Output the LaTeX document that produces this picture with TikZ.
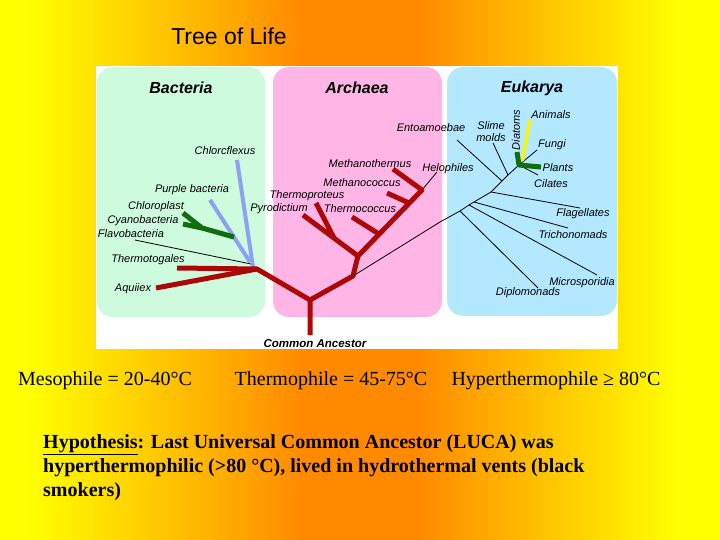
\documentclass[tikz,border=0pt]{standalone}
\usepackage{fontspec}
\setmainfont{Liberation Serif}
\setsansfont{Liberation Sans}
\usetikzlibrary{positioning}
\definecolor{bgYellow}{RGB}{255,255,0}
\definecolor{bgOrange}{RGB}{255,138,0}
\definecolor{panelGreen}{RGB}{206,250,222}
\definecolor{panelPink}{RGB}{255,182,230}
\definecolor{panelBlue}{RGB}{180,232,255}
\definecolor{treeRed}{RGB}{172,8,8}
\definecolor{treeBlue}{RGB}{140,162,240}
\definecolor{treeGreen}{RGB}{16,110,16}
\definecolor{treeYellow}{RGB}{240,245,40}
% the picture's box covers 25bp to 75bp of the shading
\pgfdeclarehorizontalshading{slideBg}{100bp}{color(0bp)=(bgYellow); color(27bp)=(bgYellow); color(46bp)=(bgOrange); color(54bp)=(bgOrange); color(72bp)=(bgYellow); color(100bp)=(bgYellow)}
\tikzset{
myPanel/.style={rounded corners=16pt}
, myHeader/.style={
	font=\sffamily\bfseries\itshape\fontsize{16}{18}\selectfont,
	inner sep=0pt
}
, myLeaf/.style={
	font=\sffamily\itshape\fontsize{11}{12}\selectfont,
	inner sep=0pt, text=black
}
% branches
, myRed/.style={draw=treeRed,line width=5pt,line join=round}
, myBlue/.style={draw=treeBlue,line width=4pt}
, myGreen/.style={draw=treeGreen,line width=5pt,line join=round}
, myYellow/.style={draw=treeYellow,line width=4pt}
, myThin/.style={draw=black,line width=0.8pt}
% texts below
, myTemp/.style={font=\fontsize{20}{24}\selectfont,inner sep=0pt,anchor=base}
, myHyp/.style={font=\bfseries\fontsize{20}{24}\selectfont,inner sep=0pt,anchor=base west}
}
\begin{document}
\begin{tikzpicture}[x=1pt,y=-1pt]
	% background
	\shade[shading=slideBg] (0,0) rectangle (720,540);
	\useasboundingbox (0,0) rectangle (720,540);
	\node[font=\sffamily\fontsize{23}{26}\selectfont,inner sep=0pt] (Title) at (229,36) {Tree of Life};
	% frame and panels
	\fill[white] (96,66) rectangle (618,349);
	\fill[myPanel,fill=panelGreen] (97,67) rectangle (265,317);
	\fill[myPanel,fill=panelPink] (273,67) rectangle (442,317);
	\fill[myPanel,fill=panelBlue] (447,67) rectangle (617,316);
	\node[myHeader] (Bacteria) at (181,88) {Bacteria};
	\node[myHeader] (Archaea) at (357,88) {Archaea};
	\node[myHeader] (Eukarya) at (532,88) {Eukarya};

	% bacteria
	\coordinate (Root) at (310,335);
	\coordinate (RootJ) at (310,300);
	\coordinate (BactJ) at (257,269);
	\coordinate (ThermotogaEnd) at (177,268);
	\coordinate (AquifexEnd) at (156,288);
	\coordinate (FlavoJ) at (251,264);
	\coordinate (FlavoEnd) at (135,240);
	\coordinate (ChloroflexJ) at (253,267);
	\coordinate (ChloroflexEnd) at (237,160);
	\coordinate (PurpleJ) at (250,262);
	\coordinate (PurpleEnd) at (210,200);
	\coordinate (GreenStem) at (234,237);
	\coordinate (GreenJ) at (202,228);
	\coordinate (ChloroplastEnd) at (183,213);
	\coordinate (CyanoEnd) at (183,224);
	\draw[myThin] (FlavoJ) -- (FlavoEnd);
	\draw[myBlue] (ChloroflexJ) -- (ChloroflexEnd);
	\draw[myBlue] (PurpleJ) -- (PurpleEnd);
	\draw[myGreen] (GreenStem) -- (GreenJ) -- (ChloroplastEnd);
	\draw[myGreen] (GreenJ) -- (CyanoEnd);
	\draw[myRed] (Root) -- (RootJ) -- (BactJ) -- (ThermotogaEnd);
	\draw[myRed] (BactJ) -- (AquifexEnd);

	% archaea
	\coordinate (ArchJ) at (353,276);
	\coordinate (ArchJ2) at (358,256);
	\coordinate (PyroEnd) at (303,215);
	\coordinate (TprotJ) at (334,238);
	\coordinate (TprotEnd) at (316,203);
	\coordinate (ArchTop) at (422,190);
	\coordinate (TcoccJ) at (379,234);
	\coordinate (TcoccEnd) at (352,217);
	\coordinate (McoccJ) at (409,203);
	\coordinate (McoccEnd) at (387,193);
	\coordinate (MthermEnd) at (393,169);
	\coordinate (HaloEnd) at (437,172);
	\draw[myThin] (ArchTop) -- (HaloEnd);
	\draw[myRed] (RootJ) -- (ArchJ) -- (ArchJ2) -- (ArchTop) -- (MthermEnd);
	\draw[myRed] (ArchJ2) -- (PyroEnd);
	\draw[myRed] (TprotJ) -- (TprotEnd);
	\draw[myRed] (TcoccJ) -- (TcoccEnd);
	\draw[myRed] (McoccJ) -- (McoccEnd);

	% eukarya
	\coordinate (EukA) at (440,222);
	\coordinate (EukDiplo) at (460,211);
	\coordinate (EukMicro) at (469,205);
	\coordinate (EukTricho) at (474,202);
	\coordinate (EukFlag) at (491,192);
	\coordinate (EukEnto) at (502,181);
	\coordinate (EukSlime) at (508,175);
	\coordinate (EukCrown) at (519,165);
	\coordinate (DiploEnd) at (538,288);
	\coordinate (MicroEnd) at (597,275);
	\coordinate (TrichoEnd) at (568,228);
	\coordinate (FlagEnd) at (580,208);
	\coordinate (EntoEnd) at (457,140);
	\coordinate (SlimeEnd) at (493,143);
	\coordinate (CiliatesEnd) at (538,175);
	\coordinate (FungiEnd) at (537,150);
	\coordinate (PlantsEnd) at (541,167);
	\coordinate (DiatomsEnd) at (517,152);
	\coordinate (AnimalsJ) at (522,161);
	\coordinate (AnimalsEnd) at (530,120);
	\draw[myThin] (ArchJ) -- (EukA) -- (EukDiplo) -- (EukMicro) -- (EukTricho) -- (EukFlag) -- (EukEnto) -- (EukSlime) -- (EukCrown);
	\draw[myThin] (EukDiplo) -- (DiploEnd);
	\draw[myThin] (EukMicro) -- (MicroEnd);
	\draw[myThin] (EukTricho) -- (TrichoEnd);
	\draw[myThin] (EukFlag) -- (FlagEnd);
	\draw[myThin] (EukEnto) -- (EntoEnd);
	\draw[myThin] (EukSlime) -- (SlimeEnd);
	\draw[myThin] (EukCrown) -- (CiliatesEnd);
	\draw[myThin] (EukCrown) -- (FungiEnd);
	\draw[myYellow] (AnimalsJ) -- (AnimalsEnd);
	\draw[myGreen] (DiatomsEnd) -- (EukCrown) -- (PlantsEnd);

	% leaf labels
	\node[myLeaf] (Chloroflexus) at (225,151) {Chlorcflexus};
	\node[myLeaf] (Purple) at (192,190) {Purple bacteria};
	\node[myLeaf] (Chloroplast) at (156,207) {Chloroplast};
	\node[myLeaf] (Cyano) at (143,221) {Cyanobacteria};
	\node[myLeaf] (Flavo) at (131,234) {Flavobacteria};
	\node[myLeaf] (Thermotogales) at (148,260) {Thermotogales};
	\node[myLeaf] (Aquifex) at (133,289) {Aquiiex};
	\node[myLeaf] (Methanothermus) at (370,164) {Methanothermus};
	\node[myLeaf] (Methanococcus) at (362,183) {Methanococcus};
	\node[myLeaf] (Thermoproteus) at (307,196) {Thermoproteus};
	\node[myLeaf] (Pyrodictium) at (279,209) {Pyrodictium};
	\node[myLeaf] (Thermococcus) at (360,209) {Thermococcus};
	\node[myLeaf] (Halophiles) at (448,169) {Helophiles};
	\node[myLeaf] (Entoamoebae) at (431,128) {Entoamoebae};
	\node[myLeaf,align=center] (Slime) at (491,132) {Slime\\molds};
	\node[myLeaf,rotate=90] (Diatoms) at (516,130) {Diatoms};
	\node[myLeaf] (Animals) at (551,115) {Animals};
	\node[myLeaf] (Fungi) at (552,145) {Fungi};
	\node[myLeaf] (Plants) at (558,168) {Plants};
	\node[myLeaf] (Ciliates) at (551,184) {Cilates};
	\node[myLeaf] (Flagellates) at (583,214) {Flagellates};
	\node[myLeaf] (Tricho) at (573,235) {Trichonomads};
	\node[myLeaf] (Micro) at (582,283) {Microsporidia};
	\node[myLeaf] (Diplo) at (528,293) {Diplomonads};
	\node[myLeaf,font=\sffamily\bfseries\itshape\fontsize{11.5}{13}\selectfont] (Ancestor) at (315,344) {Common Ancestor};

	% temperatures
	\node[myTemp] (Meso) at (105,385) {Mesophile = 20-40°C};
	\node[myTemp] (Thermo) at (331,385) {Thermophile = 45-75°C};
	\node[myTemp] (Hyper) at (556,385) {Hyperthermophile ≥ 80°C};
	% hypothesis
	\node[myHyp] (Hyp1) at (43,448) {\underline{Hypothesis}: Last Universal Common Ancestor (LUCA) was};
	\node[myHyp] (Hyp2) at (43,472) {hyperthermophilic (>80 °C), lived in hydrothermal vents (black};
	\node[myHyp] (Hyp3) at (43,496) {smokers)};
\end{tikzpicture}
\end{document}
